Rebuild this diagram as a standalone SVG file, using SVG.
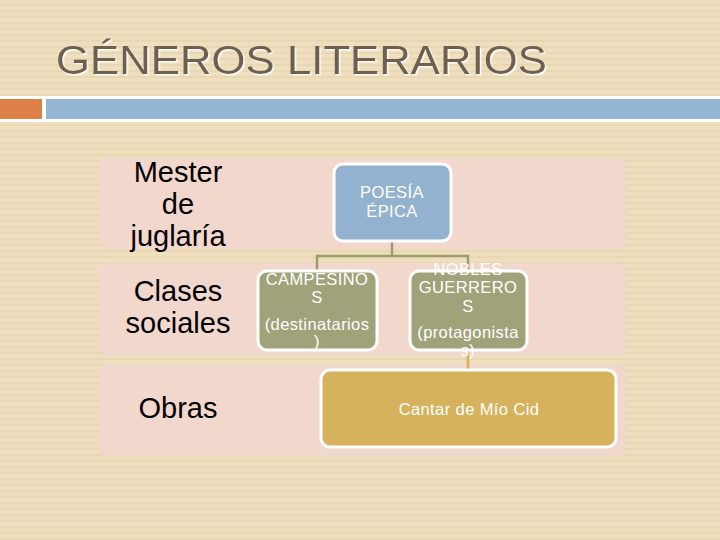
<svg xmlns="http://www.w3.org/2000/svg" width="720" height="540" viewBox="0 0 720 540">
<defs>
<pattern id="stripes" width="720" height="6" patternUnits="userSpaceOnUse">
<rect width="720" height="6" fill="#EFDFBE"/>
<rect y="4" width="720" height="2" fill="#E7D7B3"/>
</pattern>
<filter id="sh" x="-5%" y="-20%" width="110%" height="140%">
<feDropShadow dx="1.5" dy="1.5" stdDeviation="0.6" flood-color="#FFFFFF" flood-opacity="0.9"/>
</filter>
</defs>
<style>
.band{fill:#F2D7CD}
.lbl{font-family:"Liberation Sans",Arial,sans-serif;font-size:29px;fill:#000;text-anchor:middle}
.nt{font-family:"Liberation Sans",Arial,sans-serif;font-size:16.5px;letter-spacing:0.4px;fill:#FFFFFF;text-anchor:middle}
.node{stroke:#FFFFFF;stroke-width:3}
.conn{fill:none;stroke:#9C9C6E;stroke-width:2.5}
</style>
<rect width="720" height="540" fill="url(#stripes)"/>
<text x="56" y="74" font-family="'Liberation Sans',Arial,sans-serif" font-size="41" fill="#6E5E50" textLength="491" lengthAdjust="spacingAndGlyphs" filter="url(#sh)">GÉNEROS LITERARIOS</text>
<rect x="0" y="96" width="720" height="26" fill="#FFFFFF"/>
<rect x="0" y="99" width="42" height="20" fill="#DD8047"/>
<rect x="46" y="99" width="674" height="20" fill="#94B6D2"/>

<g id="bands">
<rect class="band" x="99" y="158" width="527" height="91" rx="8"/>
<rect class="band" x="99" y="263" width="527" height="93" rx="8"/>
<rect class="band" x="99" y="364" width="527" height="92" rx="8"/>
</g>

<g id="row-labels">
<text class="lbl" x="178" y="182">Mester</text>
<text class="lbl" x="178" y="214">de</text>
<text class="lbl" x="178" y="246">juglaría</text>
<text class="lbl" x="178" y="301">Clases</text>
<text class="lbl" x="178" y="333">sociales</text>
<text class="lbl" x="178" y="418">Obras</text>
</g>

<g id="connectors">
<path class="conn" d="M392 241 V256 M317 271 V256 H468 V271"/>
<path d="M468 350 V370" fill="none" stroke="#D6B25C" stroke-width="2.5"/>
</g>

<g id="poesia">
<rect class="node" x="334" y="164" width="117" height="77" rx="9" fill="#93B2D0"/>
<text class="nt" x="392" y="198">POESÍA</text>
<text class="nt" x="392" y="217">ÉPICA</text>
</g>

<g id="campesinos">
<rect class="node" x="258" y="271" width="119" height="79" rx="9" fill="#A0A27A"/>
<text class="nt" x="317" y="285">CAMPESINO</text>
<text class="nt" x="317" y="303">S</text>
<text class="nt" x="317" y="330">(destinatarios</text>
<text class="nt" x="317" y="347">)</text>
</g>

<g id="nobles">
<rect class="node" x="410" y="271" width="117" height="79" rx="9" fill="#A0A27A"/>
<text class="nt" x="468" y="275">NOBLES</text>
<text class="nt" x="468" y="293">GUERRERO</text>
<text class="nt" x="468" y="312">S</text>
<text class="nt" x="468" y="338">(protagonista</text>
<text class="nt" x="468" y="356">s)</text>
</g>

<g id="cantar">
<rect class="node" x="321" y="370" width="295" height="77" rx="9" fill="#D6B25C"/>
<text class="nt" x="469" y="415">Cantar de Mío Cid</text>
</g>
</svg>
